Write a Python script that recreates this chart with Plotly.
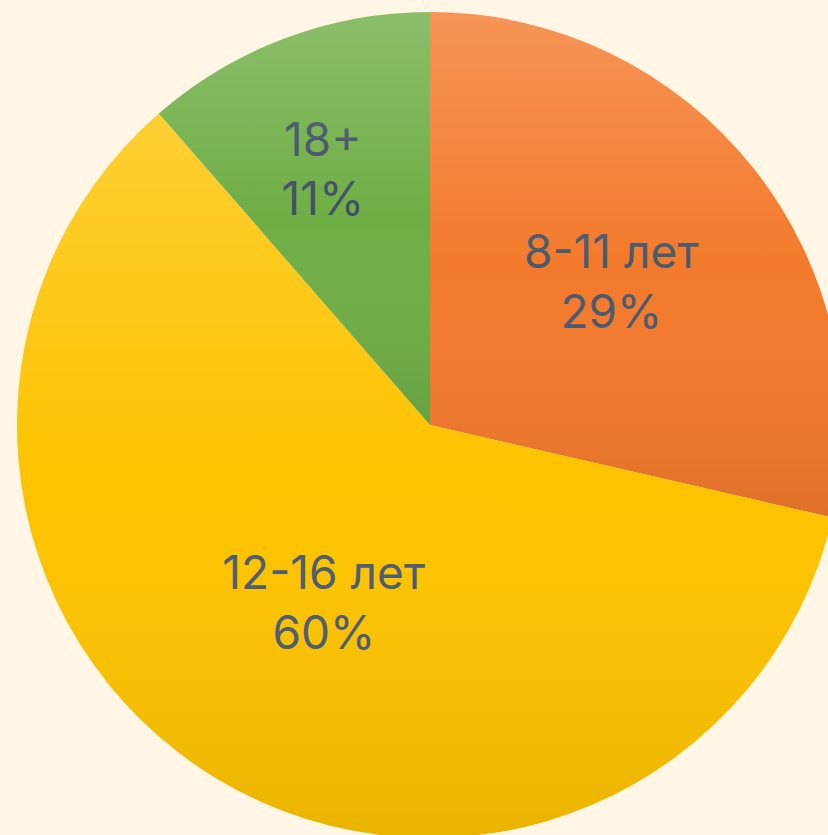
import base64
import math
import plotly.graph_objects as go

labels = ["8-11 лет", "12-16 лет", "18+"]
values = [28.6, 60.0, 11.4]
colors = ["#F37A2C", "#FDC300", "#6FAE45"]
text_colors = ["#4A5A6E", "#4C5C71", "#3F4F65"]
templates = ["%{label}<br>%{percent:.0%}",
             "%{label}<br>%{percent:.0%}",
             "&nbsp;<br>%{label}<br>%{percent:.0%}"]

W, H = 860, 851
R = 413

fig = go.Figure(go.Pie(
    labels=labels,
    values=values,
    sort=False,
    direction="clockwise",
    rotation=0,
    marker=dict(colors=colors, line=dict(width=0)),
    texttemplate=templates,
    textposition="inside",
    insidetextorientation="horizontal",
    textfont=dict(family="Inter", size=46, color=text_colors),
    hoverinfo="label+percent",
    showlegend=False,
))

# per-slice vertical shading (lighter at top, darker at bottom of each slice)
cx, cy = W / 2, R
total = sum(values)
parts = []
start = 0.0
for i, v in enumerate(values):
    a0 = 2 * math.pi * start / total
    a1 = 2 * math.pi * (start + v) / total
    start += v
    x0, y0 = cx + R * math.sin(a0), cy - R * math.cos(a0)
    x1, y1 = cx + R * math.sin(a1), cy - R * math.cos(a1)
    large = 1 if a1 - a0 > math.pi else 0
    parts.append(
        f"<linearGradient id='g{i}' x1='0' y1='0' x2='0' y2='1'>"
        "<stop offset='0' stop-color='#ffffff' stop-opacity='0.2'/>"
        "<stop offset='0.5' stop-color='#ffffff' stop-opacity='0'/>"
        "<stop offset='1' stop-color='#000000' stop-opacity='0.08'/>"
        "</linearGradient>"
    )
    parts.append(
        f"<path d='M{cx},{cy} L{x0:.2f},{y0:.2f} A{R},{R} 0 {large} 1 {x1:.2f},{y1:.2f} Z' fill='url(#g{i})'/>"
    )
svg = (f"<svg xmlns='http://www.w3.org/2000/svg' width='{W}' height='{2*R}' "
       f"viewBox='0 0 {W} {2*R}'>" + "".join(parts) + "</svg>")
uri = "data:image/svg+xml;base64," + base64.b64encode(svg.encode()).decode()

fig.update_layout(
    width=W, height=H,
    margin=dict(l=0, r=0, t=12, b=H - 12 - 2 * R),
    paper_bgcolor="#FFF6E5",
    plot_bgcolor="#FFF6E5",
    images=[dict(source=uri, xref="paper", yref="paper", x=0, y=1,
                 sizex=1, sizey=1, xanchor="left", yanchor="top",
                 sizing="stretch", layer="above")],
)

fig.write_html(
    "out.html",
    config={"displayModeBar": False},
    post_script="document.body.style.margin='0';document.body.style.overflow='hidden';"
                "document.documentElement.style.overflow='hidden';"
                "document.body.style.background='#FFF6E5';",
)
